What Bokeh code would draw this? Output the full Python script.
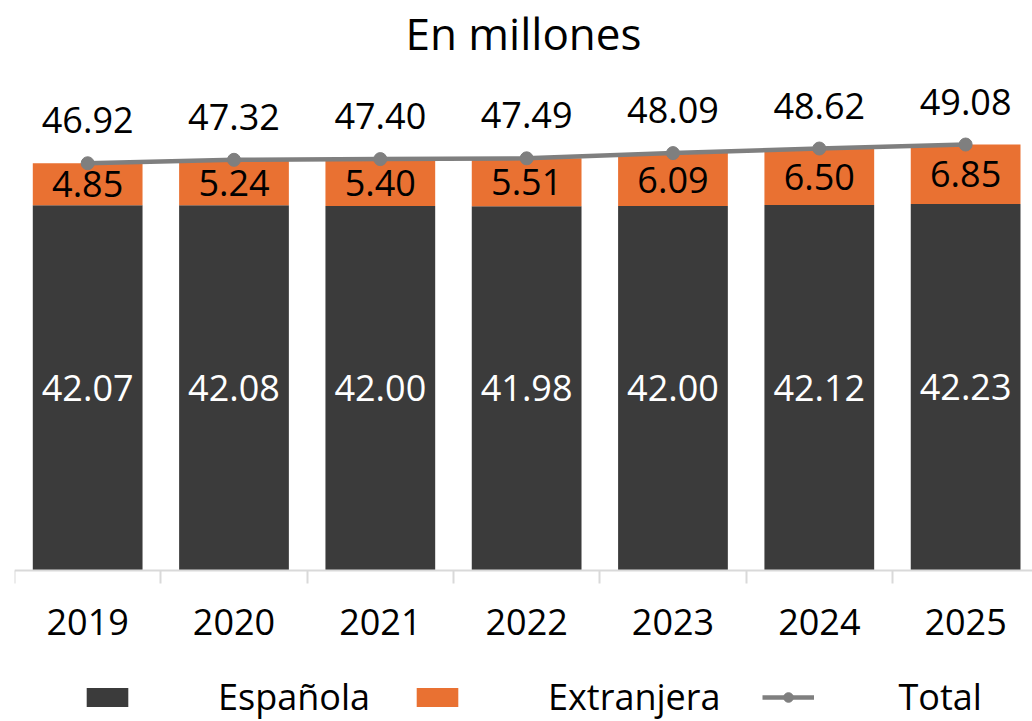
from bokeh.plotting import figure
from bokeh.models import ColumnDataSource, FixedTicker, Legend, LegendItem, Range1d
from bokeh.core.properties import value
from bokeh.embed import file_html
from bokeh.resources import INLINE

years = ["2019", "2020", "2021", "2022", "2023", "2024", "2025"]
espanola = [42.07, 42.08, 42.00, 41.98, 42.00, 42.12, 42.23]
extranjera = [4.85, 5.24, 5.40, 5.51, 6.09, 6.50, 6.85]
total = [46.92, 47.32, 47.40, 47.49, 48.09, 48.62, 49.08]

FONT = "Open Sans"
C_ESP = "#3B3B3B"
C_EXT = "#E97132"
C_TOT = "#7F7F7F"

xs = list(range(len(years)))
src = ColumnDataSource(dict(
    x=xs,
    esp=espanola,
    ext=extranjera,
    tot=total,
    esp_top=espanola,
    ext_top=[a + b for a, b in zip(espanola, extranjera)],
    esp_mid=[a / 2 for a in espanola],
    ext_mid=[a + b / 2 for a, b in zip(espanola, extranjera)],
    esp_lbl=["%.2f" % v for v in espanola],
    ext_lbl=["%.2f" % v for v in extranjera],
    tot_lbl=["%.2f" % v for v in total],
))

p = figure(width=1032, height=721, output_backend="svg", toolbar_location=None,
           x_range=Range1d(-0.5, 6.457), y_range=Range1d(-17.40, 58.53),
           y_axis_location=None, min_border_left=14, min_border_right=0,
           min_border_top=0, min_border_bottom=0)
p.outline_line_color = None
p.xgrid.visible = False
p.ygrid.visible = False

p.title.text = "En millones"
p.title.align = "center"
p.title.text_font = FONT
p.title.text_font_size = "44px"
p.title.text_font_style = "normal"
p.title.text_color = "#000000"
p.title.standoff = 0

r_esp = p.vbar(x="x", width=0.75, bottom=0, top="esp_top", source=src,
               fill_color=C_ESP, line_color=None)
r_ext = p.vbar(x="x", width=0.75, bottom="esp_top", top="ext_top", source=src,
               fill_color=C_EXT, line_color=None)
r_line = p.line(x="x", y="tot", source=src, line_color=C_TOT, line_width=4.5)
r_dot = p.scatter(x="x", y="tot", source=src, size=13, fill_color=C_TOT,
                  line_color=C_TOT)

common = dict(text_font=value(FONT), text_font_size="36px", text_align="center",
              text_baseline="middle")
p.text(x="x", y="esp_mid", text="esp_lbl", source=src, text_color="#FFFFFF", **common)
p.text(x="x", y="ext_mid", text="ext_lbl", source=src, text_color="#000000", **common)
p.text(x="x", y="tot", text="tot_lbl", source=src, text_color="#000000",
       y_offset=-43, **common)

ax = p.xaxis[0]
ax.fixed_location = 0
ax.ticker = FixedTicker(ticks=xs, minor_ticks=[i - 0.5 for i in range(len(years) + 1)])
ax.major_label_overrides = {i: y for i, y in enumerate(years)}
ax.major_label_text_font = FONT
ax.major_label_text_font_size = "36px"
ax.major_label_text_color = "#000000"
ax.major_label_standoff = 26
ax.major_tick_line_color = None
ax.major_tick_out = 0
ax.major_tick_in = 0
ax.minor_tick_out = 13
ax.minor_tick_in = 0
ax.minor_tick_line_color = "#D9D9D9"
ax.minor_tick_line_width = 2
ax.axis_line_color = "#D9D9D9"
ax.axis_line_width = 2

legend = Legend(items=[
    LegendItem(label="Española", renderers=[r_esp]),
    LegendItem(label="Extranjera", renderers=[r_ext]),
    LegendItem(label="Total", renderers=[r_line, r_dot]),
], orientation="horizontal", location=(67, 0))
legend.label_text_font = FONT
legend.label_text_font_size = "36px"
legend.label_text_color = "#000000"
legend.glyph_width = 52
legend.glyph_height = 24
legend.label_standoff = 85
legend.spacing = 41
legend.padding = 0
legend.margin = 0
legend.border_line_color = None
legend.background_fill_alpha = 0
p.add_layout(legend)

open("out.html", "w").write(file_html(p, INLINE))
